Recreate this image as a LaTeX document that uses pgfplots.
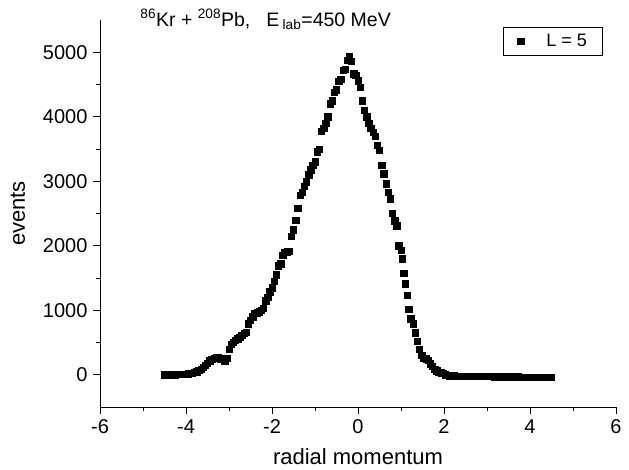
\documentclass[border=0pt]{standalone}
\usepackage{pgfplots}
\pgfplotsset{compat=1.18}
\usepackage{fontspec}
\setmainfont{Liberation Sans}
\begin{document}
\begin{tikzpicture}
\useasboundingbox (-100pt,-63pt) rectangle (529pt,407pt);
\begin{axis}[
  scale only axis, width=516pt, height=387pt,
  xmin=-6, xmax=6, ymin=-500, ymax=5500,
  axis x line*=bottom, axis y line*=left,
  axis line style={line width=0.9pt},
  tick align=outside,
  xtick={-6,-4,...,6}, ytick={0,1000,...,5000},
  minor x tick num=1, minor y tick num=1,
  major tick length=7pt, minor tick length=4pt,
  tick style={line width=0.9pt, black},
  /pgf/number format/assume math mode=true,
  /pgf/number format/.cd, 1000 sep={}, /pgfplots/.cd,
  tick label style={font=\fontsize{20}{22}\selectfont},
  yticklabel style={xshift=-2pt},
  xticklabel style={yshift=-2pt},
  xlabel={radial momentum}, ylabel={events},
  label style={font=\fontsize{22}{24}\selectfont},
  xlabel style={at={(axis description cs:0.5,-0.128)}, anchor=center},
  ylabel style={at={(axis description cs:-0.159,0.5)}, anchor=center},
  legend style={at={(axis description cs:0.975,0.982)}, anchor=north east,
    draw=black, line width=0.6pt, font=\fontsize{18}{20}\selectfont,
    inner xsep=14pt, inner ysep=5pt},
  legend image post style={mark size=3.4pt},
  clip=false,
]
\addplot[only marks, mark=square*, mark size=3.2pt, black] coordinates {
(-4.50,0) (-4.45,0) (-4.40,5) (-4.35,0) (-4.30,5) (-4.25,0) (-4.20,5) (-4.15,10)
(-4.10,5) (-4.05,10) (-4.00,10) (-3.95,15) (-3.90,20) (-3.85,20) (-3.80,40)
(-3.75,50) (-3.70,70) (-3.65,90) (-3.60,120) (-3.55,150) (-3.50,180) (-3.45,220)
(-3.40,240) (-3.35,260) (-3.30,270) (-3.25,265) (-3.20,250) (-3.15,240) (-3.10,215)
(-3.05,260) (-3.00,400) (-2.95,470) (-2.90,500) (-2.85,540) (-2.80,560) (-2.75,580)
(-2.70,610) (-2.65,640) (-2.60,660) (-2.55,790) (-2.50,850) (-2.45,900) (-2.40,950)
(-2.35,960) (-2.30,980) (-2.25,1000) (-2.20,1030) (-2.15,1150) (-2.10,1200)
(-2.05,1290) (-2.00,1350) (-1.95,1450) (-1.90,1550) (-1.85,1690) (-1.80,1720)
(-1.75,1850) (-1.70,1900) (-1.65,1910) (-1.60,1920) (-1.55,2150) (-1.50,2250)
(-1.45,2400) (-1.40,2580) (-1.35,2780) (-1.30,2830) (-1.25,2920) (-1.20,2990)
(-1.15,3100) (-1.10,3180) (-1.05,3250) (-1.00,3300) (-0.95,3460) (-0.90,3500)
(-0.85,3780) (-0.80,3820) (-0.75,3900) (-0.70,4000) (-0.65,4200) (-0.60,4250)
(-0.55,4380) (-0.50,4420) (-0.45,4550) (-0.40,4580) (-0.35,4720) (-0.30,4740)
(-0.25,4880) (-0.20,4930) (-0.16,4860) (-0.10,4670) (-0.05,4640) (0.00,4560)
(0.05,4460) (0.10,4250) (0.15,4100) (0.20,4000) (0.25,3900) (0.30,3820) (0.35,3760)
(0.40,3700) (0.45,3560) (0.50,3480) (0.55,3250) (0.60,3120) (0.65,2960) (0.70,2830)
(0.75,2730) (0.80,2500) (0.85,2390) (0.90,2310) (0.95,2000) (1.00,1930) (1.03,1800)
(1.06,1570) (1.10,1410) (1.15,1230) (1.18,1020) (1.23,870) (1.28,790) (1.33,650)
(1.38,520) (1.43,400) (1.48,300) (1.53,260) (1.58,250) (1.63,230) (1.68,170)
(1.73,130) (1.78,90) (1.83,60) (1.88,40) (1.93,30) (1.98,20) (2.03,0)
(2.08,-10) (2.13,-15) (2.18,-15) (2.23,-15) (2.28,-20) (2.33,-20) (2.38,-20)
(2.43,-20) (2.48,-20) (2.53,-20) (2.58,-25) (2.63,-20) (2.68,-20) (2.73,-25)
(2.78,-25) (2.83,-25) (2.88,-25) (2.93,-25) (2.98,-25) (3.03,-25) (3.08,-25)
(3.13,-25) (3.18,-30) (3.23,-30) (3.28,-25) (3.33,-30) (3.38,-30) (3.43,-30)
(3.48,-30) (3.53,-30) (3.58,-30) (3.63,-30) (3.68,-30) (3.73,-30) (3.78,-35)
(3.83,-35) (3.88,-35) (3.93,-35) (3.98,-35) (4.03,-35) (4.08,-35) (4.13,-35)
(4.18,-35) (4.23,-35) (4.28,-35) (4.33,-40) (4.38,-40) (4.43,-40) (4.48,-40)
};
\addlegendentry{\hspace{20pt}L = 5\hspace{6pt}}
\node[anchor=base west, font=\fontsize{19.5}{21}\selectfont, inner sep=0pt]
  at (axis description cs:0.078,0.984)
  {\textsuperscript{86}Kr + \textsuperscript{208}Pb,\hspace{16pt}E\,\textsubscript{lab}=450 MeV};
\end{axis}
\end{tikzpicture}
\end{document}
